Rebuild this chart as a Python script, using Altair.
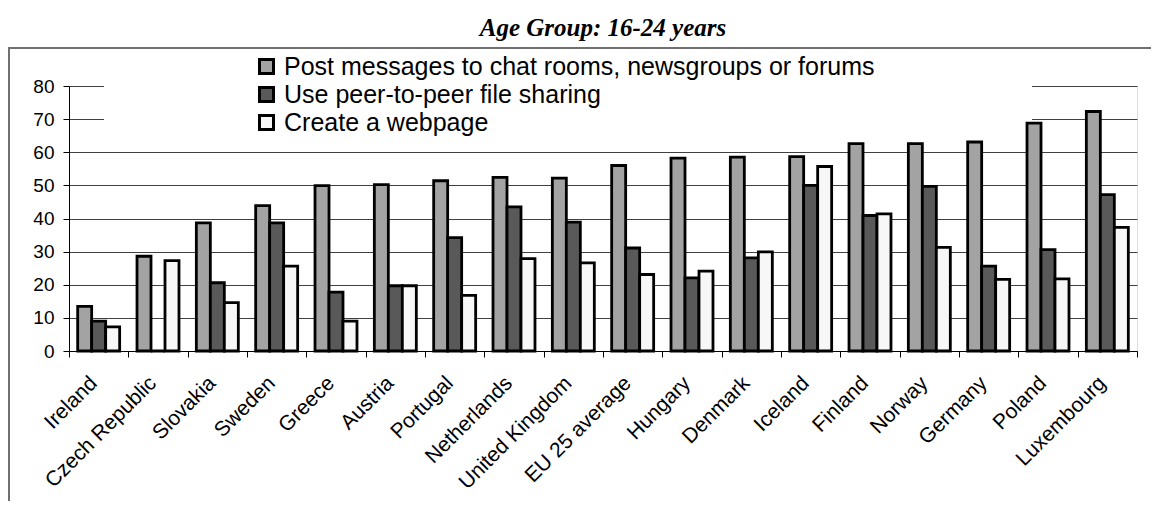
import altair as alt
import pandas as pd

countries = ["Ireland", "Czech Republic", "Slovakia", "Sweden", "Greece", "Austria",
             "Portugal", "Netherlands", "United Kingdom", "EU 25 average", "Hungary",
             "Denmark", "Iceland", "Finland", "Norway", "Germany", "Poland", "Luxembourg"]
post = [13.5, 28.6, 38.7, 43.9, 49.9, 50.2, 51.4, 52.4, 52.2, 56.0, 58.2, 58.5, 58.7,
        62.6, 62.6, 63.1, 68.8, 72.3]
p2p = [9.0, 0.0, 20.6, 38.7, 17.8, 19.7, 34.2, 43.5, 38.9, 31.1, 22.1, 28.1, 50.0,
       40.9, 49.7, 25.6, 30.6, 47.2]
web = [7.3, 27.3, 14.6, 25.6, 9.0, 19.7, 16.8, 27.9, 26.6, 23.1, 24.1, 29.9, 55.7,
       41.4, 31.3, 21.6, 21.8, 37.3]
series = ["Post messages to chat rooms, newsgroups or forums",
          "Use peer-to-peer file sharing",
          "Create a webpage"]
colors = ["#a3a3a3", "#595959", "#f7f7f7"]
y_ticks = [0, 10, 20, 30, 40, 50, 60, 70, 80]

rows = []
for s, vals in zip(series, [post, p2p, web]):
    for c, v in zip(countries, vals):
        rows.append({"country": c, "series": s, "value": v})
df = pd.DataFrame(rows)

FONT = "Liberation Sans"
one = pd.DataFrame({"k": [0]})

# white legend box hiding the upper gridlines
box = alt.Chart(one).mark_rect(fill="white").encode(
    x=alt.value(35), x2=alt.value(963), y=alt.value(-30), y2=alt.value(61)
)

bars = alt.Chart(df).mark_bar(stroke="black", strokeWidth=2.8).encode(
    x=alt.X("country:N", sort=countries,
            scale=alt.Scale(paddingInner=0, paddingOuter=0),
            axis=alt.Axis(title=None, labelAngle=-45, labelAlign="right", labelBaseline="top",
                          labelFont=FONT, labelFontSize=21, labelColor="black",
                          labelPadding=15, labelOffset=-13,
                          domainColor="black", domainWidth=1, tickColor="black",
                          tickSize=6, tickBand="extent", grid=False)),
    xOffset=alt.XOffset("series:N", sort=series,
                        scale=alt.Scale(paddingInner=0, paddingOuter=0.62)),
    y=alt.Y("value:Q", scale=alt.Scale(domain=[0, 80], nice=False),
            axis=alt.Axis(title=None, values=y_ticks, labelFont=FONT, labelFontSize=19,
                          labelColor="black", labelPadding=9, domainColor="black",
                          tickColor="black", tickSize=6, grid=True,
                          gridColor="#404040", gridWidth=1)),
    fill=alt.Fill("series:N", sort=series,
                  scale=alt.Scale(domain=series, range=colors),
                  legend=alt.Legend(title=None, orient="none", legendX=185, legendY=-32,
                                    direction="vertical", symbolType="square",
                                    symbolSize=196, symbolStrokeColor="black",
                                    symbolStrokeWidth=3, symbolOpacity=1,
                                    labelFont=FONT, labelFontSize=25, labelColor="black",
                                    labelOffset=5, rowPadding=1, padding=0,
                                    labelLimit=1000)),
)

frame_top = alt.Chart(one).mark_rule(color="#707070", strokeWidth=2).encode(
    x=alt.value(-61), x2=alt.value(1090), y=alt.value(-38)
)
frame_left = alt.Chart(one).mark_rule(color="#707070", strokeWidth=2).encode(
    x=alt.value(-60), y=alt.value(-38), y2=alt.value(420)
)

chart = alt.layer(box, bars, frame_top, frame_left).properties(
    width=1068, height=265,
    title=alt.TitleParams("Age Group: 16-24 years", font="Liberation Serif", fontSize=25,
                          fontWeight="bold", fontStyle="italic", color="black",
                          anchor="middle", offset=6),
    autosize=alt.AutoSizeParams(type="none"),
    padding={"left": 61, "top": 78, "right": 14, "bottom": 150},
).configure_view(stroke=None).configure(background="white")

chart.save("out.html", embed_options={"renderer": "svg", "actions": False})
